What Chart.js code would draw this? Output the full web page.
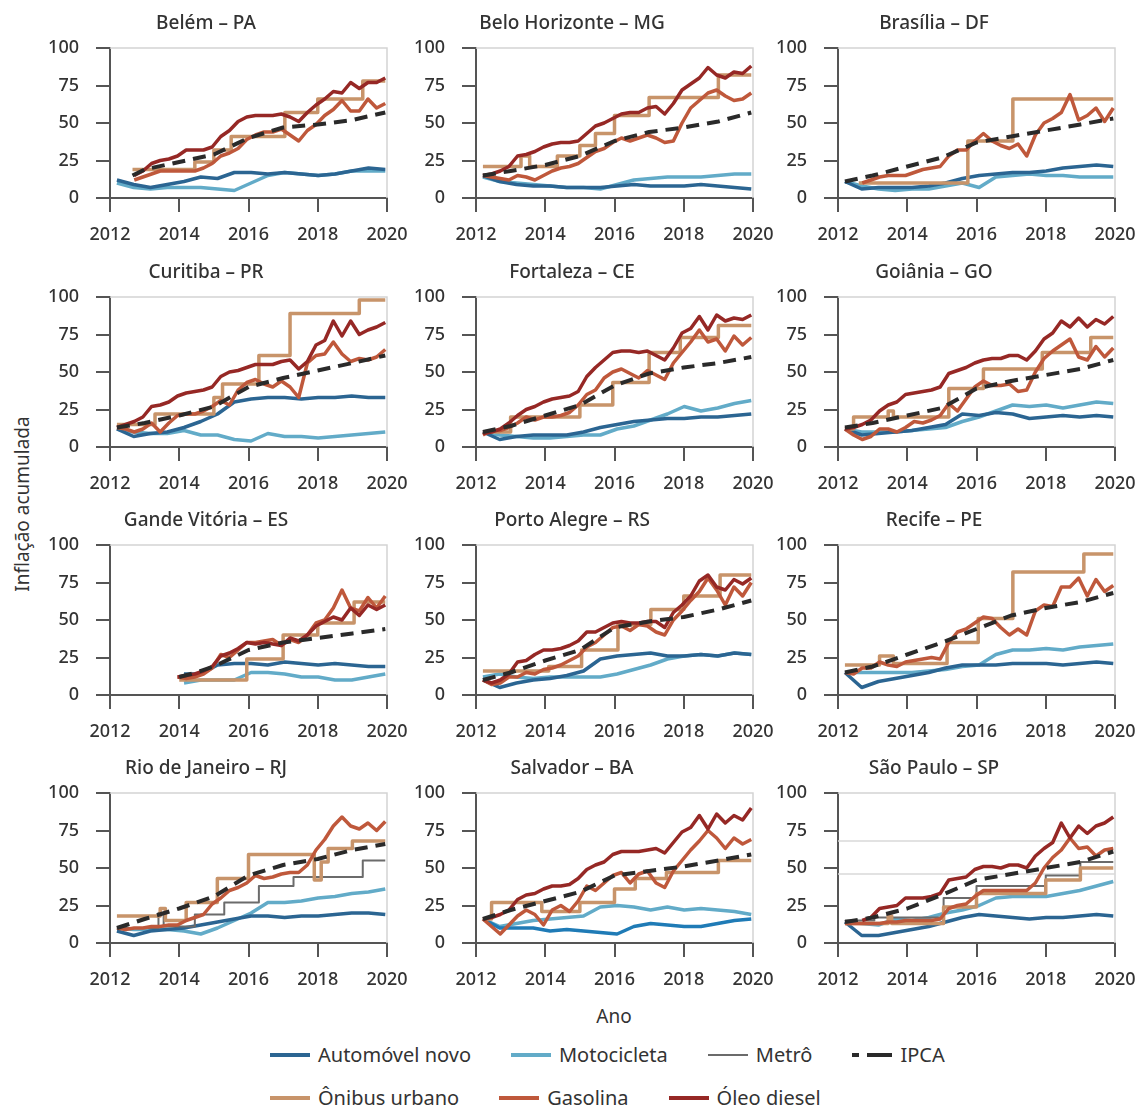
<!DOCTYPE html>
<html>
<head>
<meta charset="utf-8">
<script src="https://cdn.jsdelivr.net/npm/chart.js@4.4.1/dist/chart.umd.min.js"></script>
<style>
  body { margin: 0; background: #fff; font-family: 'Noto Sans', sans-serif; color: #333; }
  #page { position: relative; width: 1140px; height: 1108px; overflow: hidden; }
  #page canvas { position: absolute; }
  .ylab { position: absolute; left: 22px; top: 504px; font-size: 19px; transform: translate(-50%, -50%) rotate(-90deg); white-space: nowrap; }
  .xlab { position: absolute; left: 614px; top: 1016px; font-size: 19px; transform: translate(-50%, -50%); }
  .legrow { position: absolute; left: 270px; display: flex; align-items: center; font-size: 20px; white-space: nowrap; }
  .item { display: flex; align-items: center; margin-right: 40px; }
  .item svg { margin-right: 8px; }
</style>
</head>
<body>
<div id="page">
  <div class="ylab">Inflação acumulada</div>
  <div class="xlab">Ano</div>
  <div class="legrow" style="top:1041px" id="leg1"></div>
  <div class="legrow" style="top:1084px" id="leg2"></div>
</div>
<script>
// cidades (ordem dos painéis)
var cities = ["Belém – PA", "Belo Horizonte – MG", "Brasília – DF", "Curitiba – PR", "Fortaleza – CE", "Goiânia – GO",
  "Gande Vitória – ES", "Porto Alegre – RS", "Recife – PE", "Rio de Janeiro – RJ", "Salvador – BA", "São Paulo – SP"];
var xTicks = [2012, 2014, 2016, 2018, 2020];
var yTicks = [0, 25, 50, 75, 100];

// Gasolina e Óleo diesel: valores trimestrais de 2012.2 a 2019.95 (32 pontos)
var gasolina = [
  [null,null,12,14,16,18,18,18,18,18,20,23,28,30,33,39,42,44,44,46,42,38,45,49,55,59,65,58,58,66,60,63],
  [15,14,13,12,15,14,12,15,18,20,21,23,27,31,33,37,40,38,40,42,40,37,38,50,60,65,70,72,68,65,66,70],
  [null,null,10,12,14,15,15,15,17,19,20,21,28,32,32,38,43,38,35,33,36,28,42,50,53,57,69,52,55,60,51,60],
  [13,12,10,12,16,10,16,21,22,22,24,27,31,28,38,43,45,42,40,44,40,33,56,61,62,70,62,57,59,58,60,65],
  [8,11,11,13,16,20,18,20,20,21,23,28,35,38,46,50,52,49,46,51,48,45,56,63,70,78,70,72,64,74,68,73],
  [12,8,5,7,12,12,10,13,17,16,18,21,29,24,32,40,44,41,41,42,37,38,50,59,64,68,72,60,58,67,60,66],
  [null,null,null,null,null,null,null,12,11,12,14,18,27,25,30,35,35,36,37,33,37,35,40,48,50,58,70,58,56,65,58,66],
  [10,7,8,12,12,15,14,17,18,20,23,26,32,35,40,45,46,43,47,46,42,40,50,56,63,69,78,70,60,72,66,75],
  [15,14,18,18,22,20,19,22,23,24,25,24,35,42,44,48,52,51,45,40,44,40,56,60,59,72,72,78,66,77,69,73],
  [10,9,10,10,11,11,12,12,15,17,19,26,30,35,37,40,45,43,44,46,47,47,52,62,69,78,84,78,76,80,75,81],
  [16,11,6,12,18,22,19,12,22,25,21,28,38,35,40,45,47,40,46,48,40,37,48,55,62,68,75,70,63,70,66,69],
  [13,13,13,13,13,14,14,15,15,15,15,16,23,25,26,31,35,35,35,35,35,35,40,50,57,62,70,63,64,58,62,63]
];
var diesel = [
  [null,null,15,18,23,25,26,28,32,32,32,34,41,45,51,54,55,55,55,56,54,51,57,62,66,71,70,77,73,77,77,80],
  [15,16,18,21,28,29,31,34,36,37,37,38,43,48,50,53,56,57,57,60,61,56,63,72,76,80,87,82,80,84,83,88],
  null,
  [13,15,17,20,27,28,30,34,36,37,38,40,47,50,51,53,55,55,55,57,58,52,57,68,71,84,74,84,75,78,80,83],
  [9,10,12,16,21,25,27,30,32,33,34,37,47,53,58,63,64,64,63,64,61,58,66,76,79,87,78,88,84,86,85,88],
  [12,13,15,18,24,28,30,35,36,37,38,40,49,51,53,56,58,59,59,61,61,58,64,72,76,84,80,86,80,85,82,87],
  [null,null,null,null,null,null,null,12,13,14,16,19,26,28,31,35,34,35,34,33,38,36,40,46,49,52,50,58,53,60,57,60],
  [10,8,10,14,22,23,27,30,30,31,33,36,42,42,45,48,49,48,48,49,49,45,55,60,66,76,80,72,70,77,74,78],
  null,
  null,
  [16,17,19,22,29,32,33,36,38,38,39,43,49,52,54,59,61,61,61,62,63,60,67,74,77,85,76,86,80,85,82,90],
  [null,null,15,17,23,24,25,30,30,30,31,33,42,43,44,49,51,51,50,52,52,50,58,63,67,80,70,78,73,78,80,84]
];

// Automóvel novo e Motocicleta: valores semestrais de 2012.2 a 2019.95 (17 pontos)
var automovel = [
  [12,9,7,9,11,14,13,17,17,16,17,16,15,16,18,20,19],
  [15,11,9,8,8,7,7,7,8,9,8,8,8,9,8,7,6],
  [11,6,7,7,7,8,10,13,15,16,17,17,18,20,21,22,21],
  [12,7,9,10,13,17,22,30,32,33,33,32,33,33,34,33,33],
  [10,5,7,8,8,8,10,13,15,17,18,19,19,20,20,21,22],
  [12,8,9,10,11,13,15,22,21,23,22,19,20,21,20,21,20],
  [null,null,null,null,14,14,20,21,21,20,22,21,20,21,20,19,19],
  [10,5,8,10,11,13,16,24,26,27,28,26,26,27,26,28,27],
  [15,5,9,11,13,15,18,20,20,20,21,21,21,20,21,22,21],
  [8,5,8,9,10,12,14,16,18,18,17,18,18,19,20,20,19],
  [16,10,10,10,8,9,8,7,6,11,13,12,11,11,13,15,16],
  [14,5,5,7,9,11,14,17,19,18,17,16,17,17,18,19,18]
];
var motocicleta = [
  [10,7,6,7,7,7,6,5,10,15,17,16,15,16,18,18,18],
  [14,11,10,9,8,7,7,6,9,12,13,14,14,14,15,16,16],
  [11,8,6,5,6,6,8,10,7,14,15,16,15,15,14,14,14],
  [12,10,9,9,11,8,8,5,4,9,7,7,6,7,8,9,10],
  [10,8,7,6,6,7,8,8,12,14,18,22,27,24,26,29,31],
  [12,10,10,10,11,12,13,17,20,24,28,27,28,26,28,30,29],
  [null,null,null,null,8,10,10,10,15,15,14,12,12,10,10,12,14],
  [12,14,12,11,12,12,12,12,14,17,20,24,26,27,26,28,27],
  [15,15,15,15,15,16,17,19,20,27,30,30,31,30,32,33,34],
  [10,9,9,9,8,6,10,15,20,27,27,28,30,31,33,34,36],
  [16,11,13,15,16,17,18,24,25,24,22,24,22,23,22,21,19],
  [14,13,12,16,15,17,20,22,25,30,31,31,31,33,35,38,41]
];

// IPCA: [ano, valor]
var ipca = [
  [[2012.65,15],[2013,19],[2014,24],[2015,29],[2016,40],[2017,47],[2018,49],[2019,52],[2019.95,57]],
  [[2012.2,15],[2013,18],[2014,22],[2015,28],[2016,38],[2017,44],[2018,47],[2019,51],[2019.95,57]],
  [[2012.2,11],[2013,15],[2014,21],[2015,27],[2016,37],[2017,41],[2018,45],[2019,49],[2019.95,53]],
  [[2012.2,13],[2013,16],[2014,21],[2015,27],[2016,40],[2017,46],[2018,51],[2019,56],[2019.95,61]],
  [[2012.2,10],[2013,14],[2014,21],[2015,28],[2016,41],[2017,49],[2018,53],[2019,56],[2019.95,60]],
  [[2012.2,13],[2013,16],[2014,21],[2015,26],[2016,39],[2017,44],[2018,48],[2019,52],[2019.95,58]],
  [[2014.0,12],[2014.5,15],[2015,19],[2016,30],[2017,35],[2018,38],[2019,41],[2019.95,44]],
  [[2012.2,10],[2013,15],[2014,23],[2015,30],[2016,45],[2017,49],[2018,52],[2019,57],[2019.95,63]],
  [[2012.2,15],[2013,19],[2014,27],[2015,35],[2016,44],[2017,53],[2018,58],[2019,62],[2019.95,68]],
  [[2012.2,10],[2013,16],[2014,23],[2015,31],[2016,45],[2017,52],[2018,56],[2019,62],[2019.95,66]],
  [[2012.2,16],[2013,22],[2014,28],[2015,34],[2016,45],[2017,48],[2018,51],[2019,55],[2019.95,59]],
  [[2012.2,14],[2013,17],[2014,23],[2015,32],[2016,42],[2017,46],[2018,50],[2019,54],[2019.95,61]]
];

// Ônibus urbano e Metrô: reajustes [ano, valor] (degraus)
var onibus = [
  [[2012.65,19],[2014.45,24],[2015.0,32],[2015.5,41],[2017.05,57],[2018.0,66],[2019.3,78],[2019.95,78]],
  [[2012.2,21],[2013.3,28],[2013.55,21],[2014.35,28],[2015.0,35],[2015.45,43],[2016.0,55],[2017.0,67],[2019.0,82],[2019.95,82]],
  [[2012.6,10],[2015.75,38],[2017.05,66],[2019.95,66]],
  [[2012.2,15],[2013.3,22],[2015.0,33],[2015.25,42],[2016.3,61],[2017.2,89],[2019.2,98],[2019.95,98]],
  [[2012.2,10],[2013.0,20],[2015.0,28],[2015.95,43],[2017.0,63],[2017.9,73],[2019.0,81],[2019.95,81]],
  [[2012.2,12],[2012.45,20],[2013.45,24],[2013.6,20],[2015.2,39],[2016.2,52],[2017.9,63],[2019.3,73],[2019.95,73]],
  [[2014.0,10],[2015.95,24],[2017.0,40],[2018.0,48],[2019.05,62],[2019.95,62]],
  [[2012.2,16],[2014.1,19],[2015.05,30],[2016.1,47],[2017.05,57],[2018.0,66],[2019.05,80],[2019.95,80]],
  [[2012.2,20],[2013.2,26],[2013.6,21],[2015.15,35],[2016.05,51],[2017.05,82],[2019.1,94],[2019.95,94]],
  [[2012.2,18],[2013.45,23],[2013.6,15],[2014.2,27],[2015.1,43],[2016.0,59],[2017.9,42],[2018.1,54],[2018.3,63],[2019.0,68],[2019.95,68]],
  [[2012.2,16],[2012.45,27],[2013.9,21],[2015.0,27],[2016.0,36],[2016.6,43],[2017.5,47],[2019.0,55],[2019.95,55]],
  [[2012.2,13],[2013.45,18],[2013.55,13],[2015.05,24],[2016.0,33],[2018.0,42],[2019.0,50],[2019.95,50]]
];
var metro = [null, null, null, null, null, null, null, null, null,
  [[2012.2,10],[2013.4,20],[2013.55,11],[2014.45,19],[2015.3,27],[2016.3,38],[2017.3,44],[2019.3,55],[2019.95,55]],
  null,
  [[2012.2,15],[2013.05,17],[2015.05,30],[2016.0,38],[2018.0,45],[2019.0,54],[2019.95,54]]
];
var spGuides = [68, 46]; // linhas cinza claras no painel de São Paulo

var colors = {
  auto: "#2b6592", autoSalvador: "#1f7bb6", moto: "#62abc8", metro: "#6b6b6b",
  ipca: "#2a2a2a", onibus: "#c8946a", gas: "#bf583b", diesel: "#962825"
};

var colLeft = [110, 476, 838];
var rowTop = [48, 296.5, 544.5, 793];
var plotW = 277, plotH = 150, side = 85, topArea = 42, bottomArea = 58;

Chart.defaults.font.family = "'Noto Sans', sans-serif";
Chart.defaults.color = "#333";

function onGrid(vals) {
  return vals.map(function (v, i) { return { x: 2012.2 + (2019.95 - 2012.2) * i / (vals.length - 1), y: v }; });
}
function pairs(p) {
  return p.map(function (d) { return { x: d[0], y: d[1] }; });
}

var framePlugin = {
  id: "frame",
  beforeDatasetsDraw: function (chart) {
    var ctx = chart.ctx, a = chart.chartArea;
    ctx.save();
    ctx.strokeStyle = "#d4d4d4";
    ctx.lineWidth = 1.5;
    ctx.beginPath();
    ctx.moveTo(a.left, a.top);
    ctx.lineTo(a.right, a.top);
    ctx.lineTo(a.right, a.bottom);
    ctx.stroke();
    ctx.restore();
  }
};

var page = document.getElementById("page");
var tickFont = { size: 18, weight: "500" };

cities.forEach(function (city, i) {
  var col = i % 3, row = Math.floor(i / 3);
  var canvas = document.createElement("canvas");
  canvas.width = plotW + 2 * side;
  canvas.height = topArea + plotH + bottomArea;
  canvas.style.left = (colLeft[col] - side) + "px";
  canvas.style.top = (rowTop[row] - topArea) + "px";
  page.appendChild(canvas);

  var ds = [];
  if (i === 11) {
    spGuides.forEach(function (g) {
      ds.push({ data: [{ x: 2012, y: g }, { x: 2020, y: g }], borderColor: "#d8d8d8", borderWidth: 1.5, order: 9 });
    });
  }
  ds.push({ label: "Motocicleta", data: onGrid(motocicleta[i]), borderColor: colors.moto, borderWidth: 3.5, order: 7 });
  ds.push({ label: "Automóvel novo", data: onGrid(automovel[i]), borderColor: i === 10 ? colors.autoSalvador : colors.auto, borderWidth: 3.5, order: 6 });
  if (metro[i]) ds.push({ label: "Metrô", data: pairs(metro[i]), borderColor: colors.metro, borderWidth: 2, stepped: true, order: 5 });
  ds.push({ label: "Ônibus urbano", data: pairs(onibus[i]), borderColor: colors.onibus, borderWidth: 3.5, stepped: true, order: 4 });
  ds.push({ label: "Gasolina", data: onGrid(gasolina[i]), borderColor: colors.gas, borderWidth: 3.5, order: 3 });
  if (diesel[i]) ds.push({ label: "Óleo diesel", data: onGrid(diesel[i]), borderColor: colors.diesel, borderWidth: 3.5, order: 2 });
  ds.push({ label: "IPCA", data: pairs(ipca[i]), borderColor: colors.ipca, borderWidth: 4, borderDash: [13, 8], order: 1 });

  new Chart(canvas, {
    type: "line",
    data: { datasets: ds },
    plugins: [framePlugin],
    options: {
      responsive: false,
      animation: false,
      events: [],
      elements: { point: { radius: 0 }, line: { tension: 0, borderCapStyle: "butt", borderJoinStyle: "round" } },
      layout: { autoPadding: false, padding: { top: topArea - 38.8, right: side, left: 0, bottom: 0 } },
      plugins: {
        legend: { display: false },
        tooltip: { enabled: false },
        title: { display: true, text: city, color: "#333", font: { size: 19, weight: "500" }, padding: { top: 3, bottom: 13 } }
      },
      scales: {
        x: {
          type: "linear", min: 2012, max: 2020,
          afterBuildTicks: function (s) { s.ticks = xTicks.map(function (v) { return { value: v }; }); },
          afterFit: function (s) { s.height = bottomArea; },
          ticks: { font: tickFont, color: "#333", padding: 12, maxRotation: 0, callback: function (v) { return String(v); } },
          grid: { drawOnChartArea: false, drawTicks: true, tickLength: 14, color: "#555", lineWidth: 2 },
          border: { color: "#555", width: 2 }
        },
        y: {
          min: 0, max: 100,
          afterBuildTicks: function (s) { s.ticks = yTicks.map(function (v) { return { value: v }; }); },
          afterFit: function (s) { s.width = side; },
          ticks: { font: tickFont, color: "#333", padding: 17 },
          grid: { drawOnChartArea: false, drawTicks: true, tickLength: 14, color: "#555", lineWidth: 2 },
          border: { color: "#555", width: 2 }
        }
      }
    }
  });
});

// legenda
var legendRows = [
  [["Automóvel novo", colors.auto, 4, ""], ["Motocicleta", colors.moto, 4, ""], ["Metrô", colors.metro, 2, ""], ["IPCA", colors.ipca, 4, "7 8 25"]],
  [["Ônibus urbano", colors.onibus, 4, ""], ["Gasolina", colors.gas, 4, ""], ["Óleo diesel", colors.diesel, 4, ""]]
];
legendRows.forEach(function (items, r) {
  var el = document.getElementById(r === 0 ? "leg1" : "leg2");
  items.forEach(function (it) {
    var d = document.createElement("div");
    d.className = "item";
    d.innerHTML = '<svg width="40" height="10"><line x1="0" y1="5" x2="40" y2="5" stroke="' + it[1] + '" stroke-width="' + it[2] + '"' +
      (it[3] ? ' stroke-dasharray="' + it[3] + '"' : '') + '/></svg><span>' + it[0] + '</span>';
    el.appendChild(d);
  });
});
</script>
</body>
</html>
